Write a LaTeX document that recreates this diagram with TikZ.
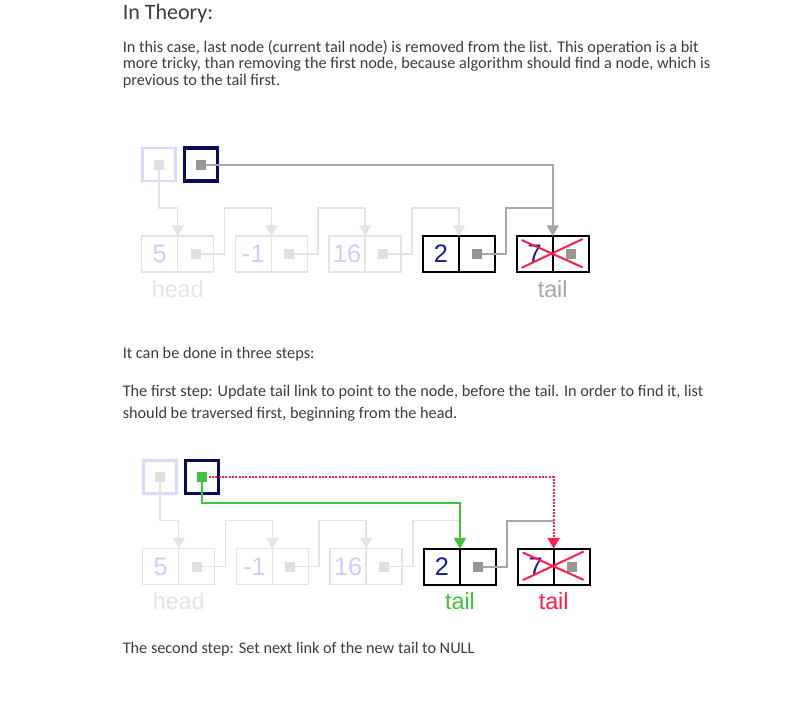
\documentclass[tikz,border=0pt]{standalone}
\usepackage{fontspec}
\setmainfont{Carlito}
\newfontfamily\arialfont{Liberation Sans}
\usetikzlibrary{positioning}
\usetikzlibrary{arrows.meta}
\definecolor{textgrey}{RGB}{59,59,69}
\definecolor{faintline}{RGB}{228,228,228}
\definecolor{faintblue}{RGB}{204,204,255}
\definecolor{faintbox}{RGB}{217,217,255}
\definecolor{faintdot}{RGB}{224,224,224}
\definecolor{linkgrey}{RGB}{166,166,166}
\definecolor{dotgrey}{RGB}{150,150,150}
\definecolor{navy}{RGB}{10,10,90}
\definecolor{digitblue}{RGB}{25,25,150}
\definecolor{newgreen}{RGB}{60,196,60}
\definecolor{oldred}{RGB}{255,30,70}
\tikzset{
    txt/.style = {anchor=base west, inner sep=0pt, text=textgrey, font=\fontsize{12.2pt}{14pt}\selectfont},
    heading/.style = {txt, font=\fontsize{16.5pt}{19pt}\selectfont}
}
\tikzset{
    cell/.style = {rectangle, minimum size=27pt, inner sep=0pt, outer sep=0pt, font=\arialfont\fontsize{19pt}{19pt}\selectfont},
    faint_cell/.style = {cell, draw=faintline, line width=1.1pt, text=faintblue},
    dark_cell/.style = {cell, draw=black, line width=1.5pt, text=digitblue},
    head_box/.style = {cell, minimum size=24.75pt, draw=faintbox, line width=2.2pt},
    tail_box/.style = {cell, minimum size=24.75pt, draw=navy, line width=2.4pt},
    ptr_dot/.style = {rectangle, minimum size=7.5pt, inner sep=0pt, outer sep=0pt},
    faint_dot/.style = {ptr_dot, fill=faintdot},
    grey_dot/.style = {ptr_dot, fill=dotgrey},
    green_dot/.style = {ptr_dot, fill=newgreen},
    lbl/.style = {inner sep=0pt, font=\arialfont\fontsize{17.5pt}{17.5pt}\selectfont},
    faint_link/.style = {draw=faintline, line width=1.1pt},
    grey_link/.style = {draw=linkgrey, line width=1.5pt},
    green_link/.style = {draw=newgreen, line width=1.5pt},
    red_link/.style = {draw=oldred, line width=1.5pt, dash pattern=on 1.5pt off 1pt},
    cross_out/.style = {draw=oldred, line width=1.5pt}
}
\begin{document}
\begin{tikzpicture}
    [x=0.75pt, y=-0.75pt, >={Triangle[width=9pt,length=8pt]}]
    \useasboundingbox (0,0) rectangle (802,722);

    % text
    \node[heading] (title) at (122.5,19.5) {In Theory:};
    \node[txt] (intro1) at (122.5,52) {In this case, last node (current tail node) is removed from the list. This operation is a bit};
    \node[txt] (intro2) at (122.5,68.5) {more tricky, than removing the first node, because algorithm should find a node, which is};
    \node[txt] (intro3) at (122.5,85) {previous to the tail first.};
    \node[txt] (steps) at (122.5,358.5) {It can be done in three steps:};
    \node[txt] (first1) at (122.5,396) {The first step: Update tail link to point to the node, before the tail. In order to find it, list};
    \node[txt] (first2) at (122.5,418) {should be traversed first, beginning from the head.};
    \node[txt] (second) at (122.5,653) {The second step: Set next link of the new tail to NULL};

    % list before
    \node[head_box] (ahead) at (159,164.5) {};
    \node[tail_box] (atail) at (201,164.5) {};
    \node[faint_cell] (a5) at (159.75,254) {5};
    \node[faint_cell, right=0pt of a5] (a5n) {};
    \node[faint_cell, right=16.3pt of a5n] (am1) {-1};
    \node[faint_cell, right=0pt of am1] (am1n) {};
    \node[faint_cell, right=16.3pt of am1n] (a16) {16};
    \node[faint_cell, right=0pt of a16] (a16n) {};
    \node[dark_cell, right=16.3pt of a16n] (a2) {2};
    \node[dark_cell, right=0pt of a2] (a2n) {};
    \node[dark_cell, right=16.3pt of a2n] (a7) {7};
    \node[dark_cell, right=0pt of a7] (a7n) {};

    \draw[faint_link,->] (ahead.center) |- ([yshift=21pt]a5.north east) -- (a5.north east);
    \draw[faint_link,->] (a5n.center) -| ([xshift=8pt,yshift=21pt]a5n.north east) -| (am1.north east);
    \draw[faint_link,->] (am1n.center) -| ([xshift=8pt,yshift=21pt]am1n.north east) -| (a16.north east);
    \draw[faint_link,->] (a16n.center) -| ([xshift=8pt,yshift=21pt]a16n.north east) -| (a2.north east);
    \draw[grey_link] (a2n.center) -| ([xshift=8.5pt,yshift=21pt]a2n.north east) -- ([yshift=21pt]a7.north east);
    \draw[grey_link,->] (atail.center) -| (a7.north east);

    \node[faint_dot] (ahead_dot) at (ahead) {};
    \node[grey_dot] (atail_dot) at (atail) {};
    \node[faint_dot] (a5n_dot) at (a5n) {};
    \node[faint_dot] (am1n_dot) at (am1n) {};
    \node[faint_dot] (a16n_dot) at (a16n) {};
    \node[grey_dot] (a2n_dot) at (a2n) {};
    \node[grey_dot] (a7n_dot) at (a7n) {};

    \draw[cross_out] ([xshift=3.75pt,yshift=-3pt]a7.north west) -- ([xshift=-4.5pt,yshift=3.5pt]a7n.south east);
    \draw[cross_out] ([xshift=3.75pt,yshift=3.2pt]a7.south west) -- ([xshift=-4.5pt,yshift=-2.25pt]a7n.north east);

    \node[lbl, text=faintline, below=6pt of a5.south east] (a5_lbl) {head};
    \node[lbl, text=linkgrey, below=6pt of a7.south east] (a7_lbl) {tail};

    % list after the first step
    \node[head_box] (bhead) at (160,477) {};
    \node[tail_box] (btail) at (202,477) {};
    \node[faint_cell] (b5) at (160.75,566.5) {5};
    \node[faint_cell, right=0pt of b5] (b5n) {};
    \node[faint_cell, right=16.3pt of b5n] (bm1) {-1};
    \node[faint_cell, right=0pt of bm1] (bm1n) {};
    \node[faint_cell, right=16.3pt of bm1n] (b16) {16};
    \node[faint_cell, right=0pt of b16] (b16n) {};
    \node[dark_cell, right=16.3pt of b16n] (b2) {2};
    \node[dark_cell, right=0pt of b2] (b2n) {};
    \node[dark_cell, right=16.3pt of b2n] (b7) {7};
    \node[dark_cell, right=0pt of b7] (b7n) {};

    \draw[faint_link,->] (bhead.center) |- ([yshift=21pt]b5.north east) -- (b5.north east);
    \draw[faint_link,->] (b5n.center) -| ([xshift=8pt,yshift=21pt]b5n.north east) -| (bm1.north east);
    \draw[faint_link,->] (bm1n.center) -| ([xshift=8pt,yshift=21pt]bm1n.north east) -| (b16.north east);
    \draw[faint_link,->] (b16n.center) -| ([xshift=8pt,yshift=21pt]b16n.north east) -| (b2.north east);
    \draw[grey_link] (b2n.center) -| ([xshift=8.5pt,yshift=21pt]b2n.north east) -- ([yshift=21pt]b7.north east);
    \draw[red_link,->] (btail.center) -| (b7.north east);
    \draw[green_link,->] (btail.center) |- ([yshift=34.4pt]b2.north east) -- (b2.north east);

    \node[faint_dot] (bhead_dot) at (bhead) {};
    \node[green_dot] (btail_dot) at (btail) {};
    \node[faint_dot] (b5n_dot) at (b5n) {};
    \node[faint_dot] (bm1n_dot) at (bm1n) {};
    \node[faint_dot] (b16n_dot) at (b16n) {};
    \node[grey_dot] (b2n_dot) at (b2n) {};
    \node[grey_dot] (b7n_dot) at (b7n) {};

    \draw[cross_out] ([xshift=3.75pt,yshift=-3pt]b7.north west) -- ([xshift=-4.5pt,yshift=3.5pt]b7n.south east);
    \draw[cross_out] ([xshift=3.75pt,yshift=3.2pt]b7.south west) -- ([xshift=-4.5pt,yshift=-2.25pt]b7n.north east);

    \node[lbl, text=faintline, below=6pt of b5.south east] (b5_lbl) {head};
    \node[lbl, text=newgreen, below=6pt of b2.south east] (b2_lbl) {tail};
    \node[lbl, text=oldred, below=6pt of b7.south east] (b7_lbl) {tail};
\end{tikzpicture}
\end{document}
